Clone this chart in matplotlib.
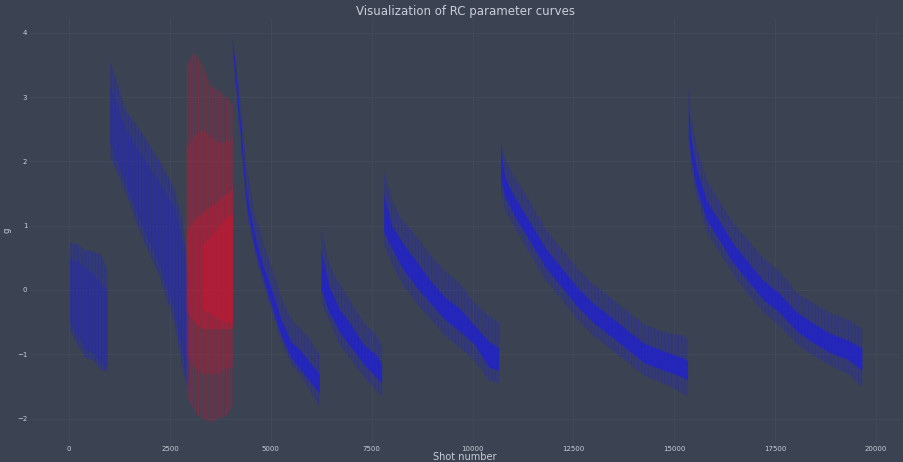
import matplotlib
matplotlib.use("Agg")
import matplotlib.pyplot as plt
import numpy as np

# each row: shot, outer low, core low, core high, outer high
seg1 = np.array([
    [0, -0.6, -0.5, 0.5, 0.75],
    [200, -0.85, -0.7, 0.45, 0.72],
    [400, -1.05, -0.9, 0.35, 0.62],
    [600, -1.1, -1.0, 0.25, 0.6],
    [800, -1.25, -1.15, 0.1, 0.55],
    [950, -1.25, -1.2, 0.0, 0.3],
])
seg2 = np.array([
    [1000, 2.1, 2.3, 3.2, 3.6],
    [1400, 1.5, 1.65, 2.5, 2.8],
    [1800, 0.82, 1.0, 2.1, 2.45],
    [2200, 0.27, 0.45, 1.7, 2.05],
    [2600, -0.5, -0.3, 1.3, 1.6],
    [2800, -1.2, -1.0, 0.8, 1.1],
    [2950, -1.6, -1.4, 0.0, 0.3],
])
seg4 = np.array([
    [4050, 3.7, 3.75, 3.9, 3.95],
    [4200, 2.6, 2.7, 2.95, 3.2],
    [4400, 1.2, 1.3, 1.5, 1.9],
    [4600, 0.55, 0.65, 0.85, 1.2],
    [4800, 0.1, 0.2, 0.4, 0.75],
    [5000, -0.3, -0.2, 0.05, 0.4],
    [5250, -0.8, -0.7, -0.45, -0.1],
    [5500, -1.15, -1.05, -0.8, -0.45],
    [5750, -1.35, -1.25, -0.95, -0.6],
    [6000, -1.6, -1.45, -1.15, -0.8],
    [6200, -1.8, -1.6, -1.3, -1.0],
])
seg5 = np.array([
    [6250, -0.2, 0.0, 0.6, 0.95],
    [6450, -0.5, -0.35, 0.05, 0.4],
    [6700, -0.85, -0.65, -0.3, 0.1],
    [7000, -1.1, -0.9, -0.55, -0.2],
    [7300, -1.35, -1.15, -0.85, -0.5],
    [7600, -1.55, -1.35, -1.0, -0.7],
    [7750, -1.65, -1.45, -1.15, -0.85],
])
seg6 = np.array([
    [7800, 0.7, 0.9, 1.5, 1.85],
    [8000, 0.4, 0.65, 1.0, 1.4],
    [8250, 0.1, 0.35, 0.75, 1.1],
    [8600, -0.2, 0.05, 0.45, 0.85],
    [8950, -0.45, -0.2, 0.15, 0.55],
    [9300, -0.7, -0.45, -0.1, 0.3],
    [9700, -0.9, -0.65, -0.3, 0.1],
    [10050, -1.1, -0.85, -0.55, -0.2],
    [10400, -1.4, -1.2, -0.8, -0.4],
    [10650, -1.45, -1.25, -0.9, -0.5],
])
seg7 = np.array([
    [10700, 1.5, 1.7, 2.2, 2.3],
    [10800, 1.25, 1.45, 1.75, 2.05],
    [11050, 0.95, 1.14, 1.44, 1.75],
    [11400, 0.58, 0.78, 1.08, 1.4],
    [11800, 0.16, 0.36, 0.66, 0.96],
    [12200, -0.15, 0.05, 0.35, 0.65],
    [12600, -0.46, -0.26, 0.04, 0.34],
    [13000, -0.71, -0.51, -0.21, 0.09],
    [13450, -0.93, -0.73, -0.43, -0.13],
    [13850, -1.13, -0.93, -0.63, -0.33],
    [14250, -1.33, -1.13, -0.83, -0.53],
    [14700, -1.44, -1.24, -0.94, -0.64],
    [15200, -1.6, -1.35, -1.05, -0.7],
    [15330, -1.66, -1.4, -1.1, -0.75],
])
seg8 = np.array([
    [15350, 2.3, 2.45, 2.9, 3.2],
    [15400, 1.9, 2.1, 2.4, 2.75],
    [15550, 1.45, 1.6, 1.9, 2.25],
    [15800, 0.9, 1.09, 1.39, 1.7],
    [16150, 0.55, 0.74, 1.04, 1.35],
    [16450, 0.25, 0.43, 0.73, 1.05],
    [16800, -0.04, 0.16, 0.46, 0.8],
    [17200, -0.35, -0.15, 0.15, 0.5],
    [17600, -0.55, -0.35, -0.05, 0.3],
    [18050, -0.85, -0.65, -0.35, -0.05],
    [18450, -1.02, -0.82, -0.52, -0.2],
    [18850, -1.17, -0.97, -0.67, -0.35],
    [19300, -1.3, -1.08, -0.78, -0.45],
    [19650, -1.5, -1.25, -0.9, -0.6],
])

# red run: shot, outer low, mid low, inner low, inner high, mid high, outer high
red = np.array([
    [2900, -1.6, -1.0, -0.3, 0.9, 2.2, 3.5],
    [3100, -1.9, -1.2, -0.5, 1.1, 2.4, 3.7],
    [3300, -2.0, -1.3, -0.6, 1.2, 2.5, 3.5],
    [3500, -2.05, -1.3, -0.6, 1.3, 2.4, 3.2],
    [3700, -2.0, -1.3, -0.6, 1.4, 2.3, 3.1],
    [3900, -1.95, -1.2, -0.6, 1.5, 2.3, 3.0],
    [4050, -1.8, -1.2, -0.6, 1.6, 2.4, 2.9],
])
# brightest red band towards the end of the run
red_core = np.array([
    [3300, -0.3, 0.7],
    [3600, -0.4, 0.9],
    [3850, -0.5, 1.1],
    [4050, -0.5, 1.2],
])

xticks = [0, 2500, 5000, 7500, 10000, 12500, 15000, 17500, 20000]
yticks = [-2, -1, 0, 1, 2, 3, 4]

bg = "#3b4353"
grid_c = "#404859"
text_c = "#c9ced8"
blue = "#1f1fd6"
crimson = "#e0102c"

plt.rcParams["hatch.linewidth"] = 0.6

fig = plt.figure(figsize=(9.04, 4.62), dpi=100, facecolor=bg)
ax = fig.add_axes([0.0332, 0.0411, 0.9624, 0.9199], facecolor=bg)


def streaks(x, lo, hi, color, alpha, hatch="|||||"):
    ax.fill_between(x, lo, hi, facecolor="none", edgecolor=color,
                    hatch=hatch, alpha=alpha, lw=0)


for s in [seg1, seg2]:
    ax.fill_between(s[:, 0], s[:, 1], s[:, 4], color=blue, alpha=0.22, lw=0)
    streaks(s[:, 0], s[:, 1], s[:, 4], blue, 0.35)
    ax.fill_between(s[:, 0], s[:, 2], s[:, 3], color=blue, alpha=0.25, lw=0)
for s in [seg4, seg5, seg6, seg7, seg8]:
    ax.fill_between(s[:, 0], s[:, 1], s[:, 4], color=blue, alpha=0.18, lw=0)
    streaks(s[:, 0], s[:, 1], s[:, 4], blue, 0.35)
    ax.fill_between(s[:, 0], s[:, 2], s[:, 3], color=blue, alpha=0.72, lw=0)

ax.fill_between(red[:, 0], red[:, 1], red[:, 6], color=crimson, alpha=0.12, lw=0)
streaks(red[:, 0], red[:, 1], red[:, 6], crimson, 0.3, hatch="||||||")
ax.fill_between(red[:, 0], red[:, 2], red[:, 5], color=crimson, alpha=0.2, lw=0)
ax.fill_between(red[:, 0], red[:, 3], red[:, 4], color=crimson, alpha=0.3, lw=0)
ax.fill_between(red_core[:, 0], red_core[:, 1], red_core[:, 2], color=crimson,
                alpha=0.35, lw=0)

ax.set_xlim(-967, 20595)
ax.set_ylim(-2.38, 4.23)
ax.set_xticks(xticks)
ax.set_yticks(yticks)
ax.set_yticklabels([str(v).replace("-", "\u2212") for v in yticks])
ax.grid(True, color=grid_c, lw=0.8)
ax.set_axisbelow(True)
ax.tick_params(length=0, labelsize=5, colors=text_c, pad=2)
for sp in ax.spines.values():
    sp.set_visible(False)

ax.set_title("Visualization of RC parameter curves", color=text_c, fontsize=8.5, pad=2)
ax.set_xlabel("Shot number", color=text_c, fontsize=7, labelpad=0)
ax.set_ylabel("g", color=text_c, fontsize=6, labelpad=4)

fig.savefig("out.png", dpi=100, facecolor=bg)
